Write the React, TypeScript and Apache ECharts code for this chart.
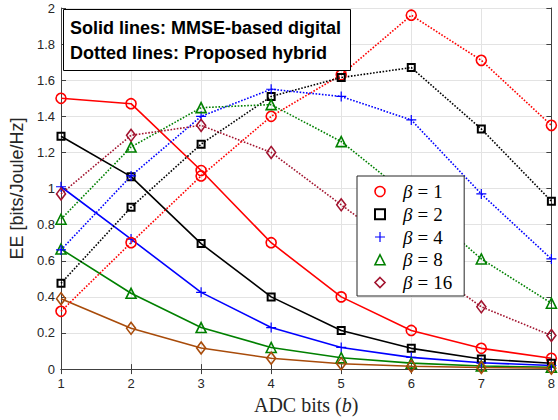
import React, { useEffect, useRef } from "react";
import * as echarts from "echarts";

const bits = [1, 2, 3, 4, 5, 6, 7, 8];
const betaLabels = ["1", "2", "4", "8", "16"];

// Solid lines: MMSE-based digital
const mmse1 = [1.5, 1.47, 1.1, 0.7, 0.4, 0.214, 0.115, 0.06];
const mmse2 = [1.29, 1.066, 0.695, 0.4, 0.214, 0.115, 0.056, 0.032];
const mmse4 = [1.01, 0.72, 0.425, 0.23, 0.12, 0.065, 0.035, 0.02];
const mmse8 = [0.665, 0.42, 0.23, 0.12, 0.063, 0.033, 0.017, 0.01];
const mmse16 = [0.39, 0.226, 0.117, 0.06, 0.03, 0.016, 0.009, 0.005];

// Dotted lines: Proposed hybrid
const hyb1 = [0.32, 0.7, 1.07, 1.4, 1.63, 1.96, 1.71, 1.35];
const hyb2 = [0.475, 0.896, 1.246, 1.51, 1.615, 1.67, 1.33, 0.93];
const hyb4 = [0.66, 1.07, 1.4, 1.55, 1.51, 1.38, 0.97, 0.61];
const hyb8 = [0.83, 1.23, 1.448, 1.465, 1.26, 0.95, 0.61, 0.365];
const hyb16 = [0.97, 1.295, 1.35, 1.2, 0.91, 0.62, 0.345, 0.186];

const mmseSets = [mmse1, mmse2, mmse4, mmse8, mmse16];
const hybSets = [hyb1, hyb2, hyb4, hyb8, hyb16];

const solidColors = ["#ff0000", "#000000", "#0000ff", "#008000", "#a84b0a"];
const dottedColors = ["#ff0000", "#000000", "#0000ff", "#008000", "#a2142f"];
const plusPath =
  "path://M-0.12,-1H0.12V-0.12H1V0.12H0.12V1H-0.12V0.12H-1V-0.12H-0.12Z";
const symbols = ["circle", "rect", plusPath, "triangle", "diamond"];
const symbolSizes: any[] = [10, 7, 10, 10, [9, 12]];

const axisColor = "#404040";
const tickFont = "'Liberation Sans', Arial, sans-serif";
const serif = "'Liberation Serif', serif";

function markerStyle(i: number, color: string) {
  if (i === 2) return { color, borderWidth: 0 };
  return {
    color: "rgba(255,255,255,0)",
    borderColor: color,
    borderWidth: i === 1 ? 2 : 1.6,
  };
}

export default function App() {
  const ref = useRef<HTMLDivElement>(null);
  useEffect(() => {
    if (!ref.current) return;
    const chart = echarts.init(ref.current, undefined, { renderer: "svg" });
    const series: any[] = [];
    mmseSets.forEach((vals, i) => {
      series.push({
        name: "MMSE β = " + betaLabels[i],
        type: "line",
        data: bits.map((b, k) => [b, vals[k]]),
        symbol: symbols[i],
        symbolSize: symbolSizes[i],
        showSymbol: true,
        lineStyle: { color: solidColors[i], width: 1.6, type: "solid" },
        itemStyle: markerStyle(i, solidColors[i]),
        z: 2,
      });
    });
    hybSets.forEach((vals, i) => {
      series.push({
        name: "β = " + betaLabels[i],
        type: "line",
        data: bits.map((b, k) => [b, vals[k]]),
        symbol: symbols[i],
        symbolSize: symbolSizes[i],
        showSymbol: true,
        lineStyle: { color: dottedColors[i], width: 1.6, type: [1.6, 1.6] },
        itemStyle: markerStyle(i, dottedColors[i]),
        z: 3,
      });
    });

    const option: any = {
      animation: false,
      backgroundColor: "#ffffff",
      grid: { left: 59, right: 4, top: 8, bottom: 46, containLabel: false },
      title: {
        text: "Solid lines: MMSE-based digital\nDotted lines: Proposed hybrid",
        left: 63,
        top: 9,
        padding: [6, 10, 6, 7],
        borderColor: "#000",
        borderWidth: 1,
        backgroundColor: "#fff",
        textStyle: {
          fontFamily: tickFont,
          fontWeight: "bold",
          fontSize: 18,
          lineHeight: 25,
          color: "#000",
        },
        z: 10,
      },
      legend: {
        orient: "vertical",
        left: 357,
        top: 176,
        padding: [6, 12, 4, 17],
        itemWidth: 10,
        itemHeight: 10,
        itemGap: 3.75,
        backgroundColor: "#fff",
        borderColor: "#262626",
        borderWidth: 1,
        selectedMode: false,
        data: betaLabels.map((b, i) => ({
          name: "β = " + b,
          icon: symbols[i],
          itemStyle: markerStyle(i, dottedColors[i]),
        })),
        formatter: (name: string) => `{g|β}{e|=}{t|${name.split("= ")[1]}}`,
        textStyle: {
          lineHeight: 19,
          rich: {
            g: {
              fontFamily: serif,
              fontStyle: "italic",
              fontSize: 19,
              color: "#000",
              padding: [0, 0, 0, 13],
            },
            e: {
              fontFamily: serif,
              fontSize: 19,
              color: "#000",
              padding: [0, 5, 0, 5],
            },
            t: {
              fontFamily: serif,
              fontSize: 19,
              color: "#000",
            },
          },
        },
        z: 10,
      },
      xAxis: [
        {
          type: "value",
          min: 1,
          max: 8,
          interval: 1,
          position: "bottom",
          name: "{n|ADC bits (}{i|b}{n|)}",
          nameLocation: "middle",
          nameGap: 23,
          nameTextStyle: {
            rich: {
              n: { fontFamily: serif, fontSize: 20, color: "#262626" },
              i: { fontFamily: serif, fontSize: 20, fontStyle: "italic", color: "#262626" },
            },
          },
          axisLine: { show: true, lineStyle: { color: axisColor, width: 1 } },
          axisTick: { show: true, inside: true, length: 5, lineStyle: { color: axisColor } },
          axisLabel: { color: "#262626", fontSize: 13, fontFamily: tickFont, margin: 8 },
          splitLine: { show: true, lineStyle: { color: "#e3e3e3", width: 1 } },
        },
        {
          type: "value",
          min: 1,
          max: 8,
          interval: 1,
          position: "top",
          axisLine: { show: true, lineStyle: { color: axisColor, width: 1 } },
          axisTick: { show: true, inside: true, length: 5, lineStyle: { color: axisColor } },
          axisLabel: { show: false },
          splitLine: { show: false },
        },
      ],
      yAxis: [
        {
          type: "value",
          min: 0,
          max: 2,
          interval: 0.2,
          position: "left",
          name: "EE [bits/Joule/Hz]",
          nameLocation: "middle",
          nameGap: 35,
          nameTextStyle: { fontFamily: tickFont, fontSize: 18, color: "#262626" },
          axisLine: { show: true, lineStyle: { color: axisColor, width: 1 } },
          axisTick: { show: true, inside: true, length: 5, lineStyle: { color: axisColor } },
          axisLabel: { color: "#262626", fontSize: 13, fontFamily: tickFont, margin: 6 },
          splitLine: { show: true, lineStyle: { color: "#e3e3e3", width: 1 } },
        },
        {
          type: "value",
          min: 0,
          max: 2,
          interval: 0.2,
          position: "right",
          axisLine: { show: true, lineStyle: { color: axisColor, width: 1 } },
          axisTick: { show: true, inside: true, length: 5, lineStyle: { color: axisColor } },
          axisLabel: { show: false },
          splitLine: { show: false },
        },
      ],
      series,
    };
    chart.setOption(option);
    return () => chart.dispose();
  }, []);
  return (
    <div
      ref={ref}
      style={{ position: "fixed", left: 0, top: 0, width: 558, height: 420, background: "#fff" }}
    />
  );
}
